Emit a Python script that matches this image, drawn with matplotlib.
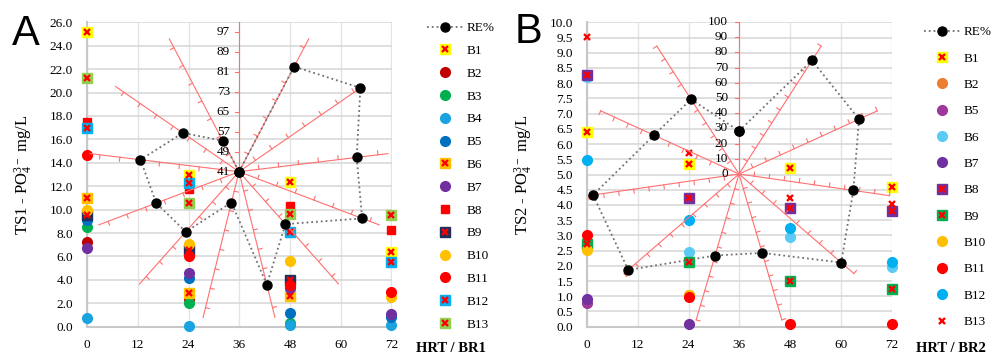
import numpy as np
import matplotlib
matplotlib.use("Agg")
import matplotlib.pyplot as plt

plt.rcParams['font.family'] = ['Liberation Serif', 'DejaVu Serif']
plt.rcParams['mathtext.fontset'] = 'custom'
plt.rcParams['mathtext.rm'] = 'Liberation Serif'
plt.rcParams['mathtext.it'] = 'Liberation Serif:italic'

nan = np.nan
hrt = [0, 24, 48, 72]

# ---- panel A (TS1 / BR1) ----
a_names = ['B1', 'B2', 'B3', 'B4', 'B5', 'B6', 'B7', 'B8', 'B9', 'B10', 'B11', 'B12', 'B13']
a_b1 = [25.2, 13.0, 12.4, 6.4]
a_b2 = [7.2, 2.4, 3.4, nan]
a_b3 = [8.5, 2.05, 0.35, nan]
a_b4 = [0.77, 0.1, 0.12, 0.14]
a_b5 = [9.15, 4.2, 1.15, 0.8]
a_b6 = [11.0, 2.85, 2.6, nan]
a_b7 = [6.7, 4.55, 3.3, 1.05]
a_b8 = [17.5, 11.8, 10.3, 8.25]
a_b9 = [9.5, 6.55, 3.95, nan]
a_b10 = [10.0, 7.05, 5.6, 2.5]
a_b11 = [14.65, 6.05, 3.6, 3.0]
a_b12 = [17.0, 12.3, 8.05, 5.5]
a_b13 = [21.2, 10.6, 9.65, 9.5]
a_re = [41, 88.5, 100, 88.4, 93.7, 69, 87.5, 53.7, 73.1, 76.4, 80.7, 68.3, 55]

# ---- panel B (TS2 / BR2) ----
b_names = ['B1', 'B2', 'B5', 'B6', 'B7', 'B8', 'B9', 'B10', 'B11', 'B12', 'B13']
b_b1 = [6.4, 5.35, 5.22, 4.6]
b_b2 = [nan, 1.05, nan, nan]
b_b5 = [0.77, nan, nan, nan]
b_b6 = [8.2, 2.44, 2.96, 1.97]
b_b7 = [0.92, 0.1, nan, nan]
b_b8 = [8.28, 4.22, 3.91, 3.81]
b_b9 = [2.72, 2.13, 1.51, 1.23]
b_b10 = [2.52, 1.03, nan, nan]
b_b11 = [3.0, 0.99, 0.1, 0.1]
b_b12 = [5.47, 3.5, 3.25, 2.14]
b_b13 = [9.53, 5.72, 4.24, 4.03]
b_re = [28.3, 88.8, 86.8, 76, 89, 54.1, 55.9, 96.4, 97, 61.5, 58.4]

a_vals = [a_b1, a_b2, a_b3, a_b4, a_b5, a_b6, a_b7, a_b8, a_b9, a_b10, a_b11, a_b12, a_b13]
b_vals = [b_b1, b_b2, b_b5, b_b6, b_b7, b_b8, b_b9, b_b10, b_b11, b_b12, b_b13]

# marker kind, face colour
a_style = [('sx', '#FFFF00'), ('o', '#C00000'), ('o', '#00B050'), ('o', '#1AA3DF'),
           ('o', '#0070C0'), ('sx', '#FFC000'), ('o', '#7030A0'), ('s', '#FF0000'),
           ('sx', '#1F2F5E'), ('o', '#FFC000'), ('o', '#FF0000'), ('sx', '#00B0F0'),
           ('sx', '#92D050')]
b_style = [('sx', '#FFFF00'), ('o', '#ED7D31'), ('o', '#A0379A'), ('o', '#5BCBF5'),
           ('o', '#7030A0'), ('sx', '#7030A0'), ('sx', '#00B050'), ('o', '#FFC000'),
           ('o', '#FF0000'), ('o', '#00B0F0'), ('x', '#FF0000')]

W, H = 994, 358
SPOKE = '#FF7070'


def draw_series(ax, vals, kind, color):
    if kind == 'o':
        return ax.plot(hrt, vals, 'o', ms=7, color=color, clip_on=False, zorder=3)[0]
    if kind == 's':
        return ax.plot(hrt, vals, 's', ms=6, color=color, clip_on=False, zorder=3)[0]
    cross = ax.plot(hrt, vals, 'x', ms=5, mew=1.7, color='red', clip_on=False, zorder=4)
    if kind == 'x':
        return cross[0]
    sq = ax.plot(hrt, vals, 's', ms=6.5, color=color, clip_on=False, zorder=3)[0]
    cross[0].set_zorder(3.5)
    return (sq, cross[0])


def main_axes(left, ymax, ystep):
    ax = fig.add_axes([left / W, 1 - 326.7 / H, 304.5 / W, 304.4 / H])
    ax.set_xlim(0, 72)
    ax.set_ylim(0, ymax)
    ax.set_xticks(range(0, 73, 12))
    ax.set_yticks(np.arange(0, ymax + 1e-9, ystep))
    ax.set_yticklabels(['%.1f' % v for v in np.arange(0, ymax + 1e-9, ystep)])
    ax.grid(True, axis='y', color='#D9D9D9', lw=1.2)
    ax.grid(True, axis='x', color='#E4E4E4', lw=1.0)
    ax.set_axisbelow(True)
    for s in ['top', 'right']:
        ax.spines[s].set_visible(False)
    for s in ['left', 'bottom']:
        ax.spines[s].set_color('#C8C8C8')
        ax.spines[s].set_linewidth(1.5)
    ax.tick_params(length=0, labelsize=9.5, pad=10)
    ax.tick_params(axis='x', pad=9)
    return ax


def draw_radar(cx, cy, R, rmin, rmax, step, values, label_off):
    pax = fig.add_axes([(cx - R) / W, 1 - (cy + R) / H, 2 * R / W, 2 * R / H],
                       projection='polar')
    pax.set_theta_zero_location('N')
    pax.set_theta_direction(-1)
    pax.set_ylim(rmin, rmax)
    pax.set_axis_off()
    pax.patch.set_alpha(0)
    n = len(values)
    theta = np.arange(n) * 2 * np.pi / n
    L = 4.0 / (R / (rmax - rmin))
    ticks = np.arange(rmin + step, rmax + 1e-9, step)
    for t in theta:
        pax.plot([t, t], [rmin, rmax], color=SPOKE, lw=0.8, clip_on=False)
        for r in ticks:
            d = r - rmin
            pax.plot([t, t - np.arctan2(L, d)], [r, rmin + np.hypot(d, L)],
                     color=SPOKE, lw=0.8, clip_on=False)
    for r in np.arange(rmin, rmax + 1e-9, step):
        pax.annotate('%d' % r, xy=(0, r), xytext=(-label_off, 0), textcoords='offset points',
                     ha='right', va='center', fontsize=9.5)
    tt = list(theta) + [theta[0]]
    vv = list(values) + [values[0]]
    h = pax.plot(tt, vv, ':', color='#707070', lw=1.3, marker='o', ms=6.5,
                 mfc='black', mec='black', clip_on=False)[0]
    return h


fig = plt.figure(figsize=(W / 100, H / 100), dpi=100)

# panel A
axA = main_axes(87, 26, 2)
hA = [draw_series(axA, v, k, c) for v, (k, c) in zip(a_vals, a_style)]
axA.set_ylabel('TS1 - PO$_4^{3-}$ mg/L', fontsize=12)
axA.yaxis.set_label_coords(-0.172, 0.5)
reA = draw_radar(239, 171.7, 150, 41, 101, 8, a_re, 6.5)

# panel B
axB = main_axes(587, 10, 0.5)
hB = [draw_series(axB, v, k, c) for v, (k, c) in zip(b_vals, b_style)]
axB.set_ylabel('TS2 - PO$_4^{3-}$ mg/L', fontsize=12)
axB.yaxis.set_label_coords(-0.172, 0.5)
reB = draw_radar(739, 174, 152, 0, 100, 10, b_re, 8)

common = dict(loc='upper left', frameon=False, borderpad=0, borderaxespad=0,
              handlelength=2.7, handletextpad=0.3, numpoints=1, fontsize=9.5)
fig.legend([reA] + hA, ['RE%'] + a_names, bbox_to_anchor=(427 / W, 1 - 22 / H),
           labelspacing=0.80, **common)
fig.legend([reB] + hB, ['RE%'] + b_names, bbox_to_anchor=(924 / W, 1 - 26 / H),
           labelspacing=1.07, **common)

fig.text(451 / W, 1 - 348 / H, 'HRT / BR1', ha='center', va='center',
         fontsize=10.5, fontweight='bold')
fig.text(951 / W, 1 - 348 / H, 'HRT / BR2', ha='center', va='center',
         fontsize=10.5, fontweight='bold')
fig.text(12 / W, 1 - 45 / H, 'A', fontsize=30, family='Liberation Sans', va='baseline')
fig.text(515 / W, 1 - 43 / H, 'B', fontsize=30, family='Liberation Sans', va='baseline')

fig.savefig('out.png', dpi=100)
